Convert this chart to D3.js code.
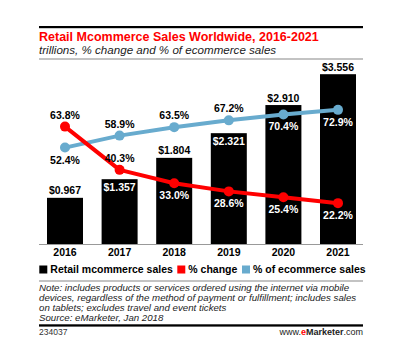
<!DOCTYPE html>
<html><head><meta charset="utf-8">
<script src="https://cdn.jsdelivr.net/npm/d3@7"></script>
<style>
html,body{margin:0;padding:0;background:#fff;}
svg{display:block;font-family:"Liberation Sans",Arial,sans-serif;}
</style></head>
<body><svg id="c" width="400" height="360"></svg>
<script>
const years = ["2016","2017","2018","2019","2020","2021"];
const sales = [0.967, 1.357, 1.804, 2.321, 2.910, 3.556];
const pctChange = [63.8, 40.3, 33.0, 28.6, 25.4, 22.2];
const pctEcom = [52.4, 58.9, 63.5, 67.2, 70.4, 72.9];
const salesLabelPlace = ["above","inside","above","inside","above","above"];
const changeLabelPlace = ["above","above","below","below","below","below"];
const ecomLabelPlace = ["below","above","above","above","below","below"];
const legendItems = ["Retail mcommerce sales","% change","% of ecommerce sales"];
const noteLines = [
  "Note: includes products or services ordered using the internet via mobile",
  "devices, regardless of the method of payment or fulfillment; includes sales",
  "on tablets; excludes travel and event tickets",
  "Source: eMarketer, Jan 2018"
];

const RED = "#ff0000", BLUE = "#68abce";
const svg = d3.select("#c");
const L = 39, R = 363;

// header
svg.append("rect").attr("x",L).attr("y",26).attr("width",R-L).attr("height",2.2).attr("fill","#000");
svg.append("text").attr("x",L).attr("y",40.7).attr("fill",RED).attr("font-weight","bold")
  .attr("font-size",12.5).text("Retail Mcommerce Sales Worldwide, 2016-2021");
svg.append("text").attr("x",L).attr("y",53.5).attr("fill","#222").attr("font-style","italic")
  .attr("font-size",11.6).text("trillions, % change and % of ecommerce sales");
svg.append("rect").attr("x",L).attr("y",58.5).attr("width",R-L).attr("height",1).attr("fill","#888");

// scales
const x = d3.scaleBand().domain(years).range([37.7,365.3]).paddingInner(0.34).paddingOuter(0.17);
const ySales = d3.scaleLinear().domain([0,4]).range([244,53]);
const yPct = d3.scaleLinear().domain([0,100]).range([244,60]);
const cx = d => x(d)+x.bandwidth()/2;

// bars
const data = years.map((y,i)=>({y, s:sales[i], c:pctChange[i], e:pctEcom[i], i}));
svg.append("g").selectAll("rect").data(data).join("rect")
  .attr("x",d=>cx(d.y)-18).attr("width",36)
  .attr("y",d=>ySales(d.s)).attr("height",d=>244-ySales(d.s)).attr("fill","#000");

// axis
const xAxis = svg.append("g").attr("transform","translate(0,244)").call(d3.axisBottom(x).tickSize(0).tickPadding(5));
xAxis.select(".domain").remove();
xAxis.selectAll("text").attr("font-size",10.5).attr("font-weight","bold").attr("fill","#000")
  .attr("font-family","Liberation Sans, Arial, sans-serif");
svg.append("line").attr("x1",L).attr("x2",R).attr("y1",244.5).attr("y2",244.5).attr("stroke","#999").attr("stroke-width",1);

// sales labels
svg.append("g").selectAll("text").data(data).join("text")
  .attr("x",d=>cx(d.y)).attr("text-anchor","middle")
  .attr("y",d=> salesLabelPlace[d.i]==="above" ? ySales(d.s)-3.5 : ySales(d.s)+12)
  .attr("fill",d=> salesLabelPlace[d.i]==="above" ? "#000" : "#fff")
  .attr("font-size",10.5).attr("font-weight","bold")
  .text(d=>"$"+d3.format(".3f")(d.s));

// lines
function drawLine(key, color){
  const line = d3.line().x(d=>cx(d.y)).y(d=>yPct(d[key]));
  svg.append("path").datum(data).attr("d",line).attr("fill","none")
    .attr("stroke",color).attr("stroke-width",4).attr("stroke-linejoin","round");
  svg.append("g").selectAll("circle").data(data).join("circle")
    .attr("cx",d=>cx(d.y)).attr("cy",d=>yPct(d[key])).attr("r",5).attr("fill",color);
}
drawLine("e", BLUE);
drawLine("c", RED);

function drawLabels(key, places){
  svg.append("g").selectAll("text").data(data).join("text")
    .attr("x",d=>cx(d.y)).attr("text-anchor","middle")
    .attr("y",d=> places[d.i]==="above" ? yPct(d[key])-8 : yPct(d[key])+16)
    .attr("fill",d=>{
      const yb = places[d.i]==="above" ? yPct(d[key])-8 : yPct(d[key])+16;
      return (yb-7 > ySales(d.s)) ? "#fff" : "#000";
    })
    .attr("font-size",10.5).attr("font-weight","bold")
    .text(d=>d3.format(".1f")(d[key])+"%");
}
drawLabels("c", changeLabelPlace);
drawLabels("e", ecomLabelPlace);

// legend
const legColors = ["#000", RED, BLUE];
const legX = [39.3, 177.3, 242];
legendItems.forEach((t,i)=>{
  svg.append("rect").attr("x",legX[i]).attr("y",265.5).attr("width",8).attr("height",8).attr("fill",legColors[i]);
  svg.append("text").attr("x",legX[i]+11).attr("y",273.3).attr("font-size",10.5).attr("font-weight","bold")
    .attr("fill","#000").text(t);
});
svg.append("rect").attr("x",L).attr("y",280.5).attr("width",R-L).attr("height",1).attr("fill","#888");

// notes
noteLines.forEach((t,i)=>{
  svg.append("text").attr("x",L).attr("y",291+i*10).attr("font-size",9.7).attr("font-style","italic")
    .attr("fill","#222").text(t);
});
svg.append("rect").attr("x",L).attr("y",324.3).attr("width",R-L).attr("height",2.3).attr("fill","#000");
svg.append("text").attr("x",L).attr("y",335).attr("font-size",8.5).attr("fill","#333").text("234037");
const ft = svg.append("text").attr("x",R).attr("y",335).attr("text-anchor","end").attr("font-size",9).attr("fill","#222");
ft.append("tspan").text("www.");
ft.append("tspan").attr("fill",RED).attr("font-weight","bold").text("e");
ft.append("tspan").attr("font-weight","bold").text("Marketer");
ft.append("tspan").text(".com");
</script>
</body></html>
